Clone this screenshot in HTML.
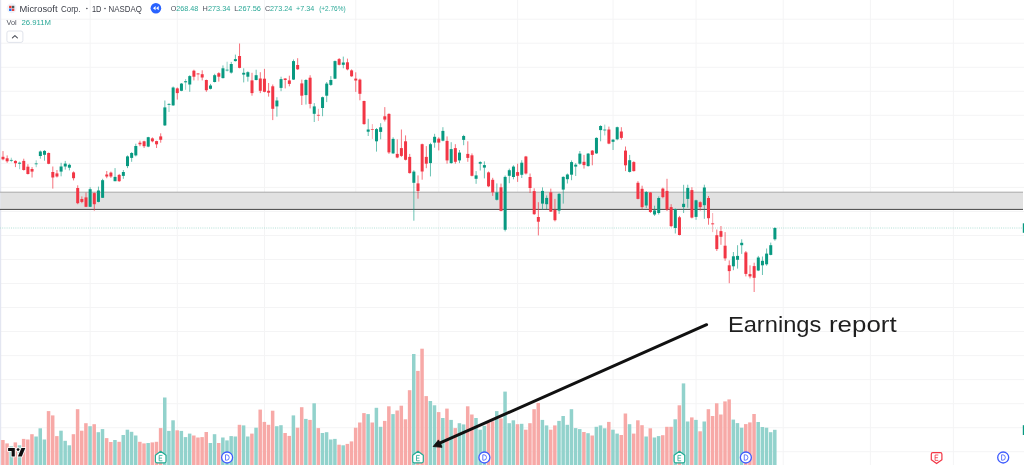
<!DOCTYPE html>
<html><head><meta charset="utf-8"><title>MSFT chart</title>
<style>html,body{margin:0;padding:0;background:#fff;overflow:hidden}svg{display:block;will-change:transform}text{font-family:"Liberation Sans",sans-serif}</style>
</head><body>
<svg width="1024" height="465" viewBox="0 0 1024 465">
<rect width="1024" height="465" fill="#fff"/>
<g stroke="#f4f4f5" stroke-width="1">
<line x1="90.15" y1="0" x2="90.15" y2="465"/>
<line x1="177.30" y1="0" x2="177.30" y2="465"/>
<line x1="264.45" y1="0" x2="264.45" y2="465"/>
<line x1="355.75" y1="0" x2="355.75" y2="465"/>
<line x1="438.75" y1="0" x2="438.75" y2="465"/>
<line x1="517.60" y1="0" x2="517.60" y2="465"/>
<line x1="613.05" y1="0" x2="613.05" y2="465"/>
<line x1="696.05" y1="0" x2="696.05" y2="465"/>
<line x1="783.20" y1="0" x2="783.20" y2="465"/>
<line x1="870.35" y1="0" x2="870.35" y2="465"/>
<line x1="953.35" y1="0" x2="953.35" y2="465"/>
<line x1="0" y1="19.20" x2="1024" y2="19.20"/>
<line x1="0" y1="43.23" x2="1024" y2="43.23"/>
<line x1="0" y1="67.26" x2="1024" y2="67.26"/>
<line x1="0" y1="91.29" x2="1024" y2="91.29"/>
<line x1="0" y1="115.32" x2="1024" y2="115.32"/>
<line x1="0" y1="139.35" x2="1024" y2="139.35"/>
<line x1="0" y1="163.38" x2="1024" y2="163.38"/>
<line x1="0" y1="187.41" x2="1024" y2="187.41"/>
<line x1="0" y1="211.44" x2="1024" y2="211.44"/>
<line x1="0" y1="235.47" x2="1024" y2="235.47"/>
<line x1="0" y1="259.50" x2="1024" y2="259.50"/>
<line x1="0" y1="283.53" x2="1024" y2="283.53"/>
<line x1="0" y1="307.56" x2="1024" y2="307.56"/>
<line x1="0" y1="331.59" x2="1024" y2="331.59"/>
<line x1="0" y1="355.62" x2="1024" y2="355.62"/>
<line x1="0" y1="379.65" x2="1024" y2="379.65"/>
<line x1="0" y1="403.68" x2="1024" y2="403.68"/>
<line x1="0" y1="427.71" x2="1024" y2="427.71"/>
<line x1="0" y1="451.74" x2="1024" y2="451.74"/>
</g>
<rect x="0" y="0" width="1.2" height="465" fill="#e3e6f1"/>
<rect x="0.6" y="192" width="1022.4" height="18" fill="#e1e1e1"/>
<rect x="0" y="191.7" width="1023" height="0.9" fill="#a4a4a4"/>
<rect x="0" y="208.9" width="1023" height="1" fill="#484848"/>
<line x1="0" y1="228" x2="1023" y2="228" stroke="#b4e0d8" stroke-width="1" stroke-dasharray="1 1.2"/>
<rect x="1022.8" y="223.3" width="1.4" height="9.5" fill="#089981"/>
<rect x="1022.8" y="425.2" width="1.4" height="9.8" fill="#089981"/>
<g>
<rect x="1.15" y="440.0" width="3.5" height="25.0" fill="#f7a9a7"/>
<rect x="5.30" y="443.4" width="3.5" height="21.6" fill="#f7a9a7"/>
<rect x="9.45" y="446.3" width="3.5" height="18.7" fill="#92d2cc"/>
<rect x="13.60" y="442.4" width="3.5" height="22.6" fill="#f7a9a7"/>
<rect x="17.75" y="445.3" width="3.5" height="19.7" fill="#92d2cc"/>
<rect x="21.90" y="438.9" width="3.5" height="26.1" fill="#f7a9a7"/>
<rect x="26.05" y="439.5" width="3.5" height="25.5" fill="#f7a9a7"/>
<rect x="30.20" y="434.2" width="3.5" height="30.8" fill="#f7a9a7"/>
<rect x="34.35" y="436.5" width="3.5" height="28.5" fill="#92d2cc"/>
<rect x="38.50" y="428.3" width="3.5" height="36.7" fill="#92d2cc"/>
<rect x="42.65" y="439.5" width="3.5" height="25.5" fill="#92d2cc"/>
<rect x="46.80" y="411.1" width="3.5" height="53.9" fill="#f7a9a7"/>
<rect x="50.95" y="415.4" width="3.5" height="49.6" fill="#f7a9a7"/>
<rect x="55.10" y="436.1" width="3.5" height="28.9" fill="#f7a9a7"/>
<rect x="59.25" y="430.7" width="3.5" height="34.3" fill="#92d2cc"/>
<rect x="63.40" y="440.8" width="3.5" height="24.2" fill="#92d2cc"/>
<rect x="67.55" y="445.3" width="3.5" height="19.7" fill="#92d2cc"/>
<rect x="71.70" y="434.2" width="3.5" height="30.8" fill="#f7a9a7"/>
<rect x="75.85" y="409.2" width="3.5" height="55.8" fill="#f7a9a7"/>
<rect x="80.00" y="430.7" width="3.5" height="34.3" fill="#f7a9a7"/>
<rect x="84.15" y="423.2" width="3.5" height="41.8" fill="#f7a9a7"/>
<rect x="88.30" y="426.2" width="3.5" height="38.8" fill="#92d2cc"/>
<rect x="92.45" y="424.2" width="3.5" height="40.8" fill="#f7a9a7"/>
<rect x="96.60" y="432.2" width="3.5" height="32.8" fill="#92d2cc"/>
<rect x="100.75" y="429.1" width="3.5" height="35.9" fill="#92d2cc"/>
<rect x="104.90" y="438.1" width="3.5" height="26.9" fill="#f7a9a7"/>
<rect x="109.05" y="442.0" width="3.5" height="23.0" fill="#f7a9a7"/>
<rect x="113.20" y="440.0" width="3.5" height="25.0" fill="#92d2cc"/>
<rect x="117.35" y="441.8" width="3.5" height="23.2" fill="#f7a9a7"/>
<rect x="121.50" y="435.0" width="3.5" height="30.0" fill="#92d2cc"/>
<rect x="125.65" y="429.7" width="3.5" height="35.3" fill="#92d2cc"/>
<rect x="129.80" y="431.8" width="3.5" height="33.2" fill="#92d2cc"/>
<rect x="133.95" y="435.5" width="3.5" height="29.5" fill="#92d2cc"/>
<rect x="138.10" y="441.8" width="3.5" height="23.2" fill="#f7a9a7"/>
<rect x="142.25" y="443.4" width="3.5" height="21.6" fill="#f7a9a7"/>
<rect x="146.40" y="443.0" width="3.5" height="22.0" fill="#92d2cc"/>
<rect x="150.55" y="442.4" width="3.5" height="22.6" fill="#f7a9a7"/>
<rect x="154.70" y="441.8" width="3.5" height="23.2" fill="#f7a9a7"/>
<rect x="158.85" y="428.1" width="3.5" height="36.9" fill="#f7a9a7"/>
<rect x="163.00" y="397.5" width="3.5" height="67.5" fill="#92d2cc"/>
<rect x="167.15" y="430.9" width="3.5" height="34.1" fill="#92d2cc"/>
<rect x="171.30" y="420.3" width="3.5" height="44.7" fill="#92d2cc"/>
<rect x="175.45" y="430.3" width="3.5" height="34.7" fill="#f7a9a7"/>
<rect x="179.60" y="430.9" width="3.5" height="34.1" fill="#92d2cc"/>
<rect x="183.75" y="437.1" width="3.5" height="27.9" fill="#92d2cc"/>
<rect x="187.90" y="433.6" width="3.5" height="31.4" fill="#92d2cc"/>
<rect x="192.05" y="435.5" width="3.5" height="29.5" fill="#f7a9a7"/>
<rect x="196.20" y="437.5" width="3.5" height="27.5" fill="#f7a9a7"/>
<rect x="200.35" y="437.1" width="3.5" height="27.9" fill="#f7a9a7"/>
<rect x="204.50" y="432.0" width="3.5" height="33.0" fill="#f7a9a7"/>
<rect x="208.65" y="443.0" width="3.5" height="22.0" fill="#92d2cc"/>
<rect x="212.80" y="434.2" width="3.5" height="30.8" fill="#92d2cc"/>
<rect x="216.95" y="443.0" width="3.5" height="22.0" fill="#f7a9a7"/>
<rect x="221.10" y="437.5" width="3.5" height="27.5" fill="#92d2cc"/>
<rect x="225.25" y="440.4" width="3.5" height="24.6" fill="#92d2cc"/>
<rect x="229.40" y="436.1" width="3.5" height="28.9" fill="#92d2cc"/>
<rect x="233.55" y="436.5" width="3.5" height="28.5" fill="#92d2cc"/>
<rect x="237.70" y="424.8" width="3.5" height="40.2" fill="#f7a9a7"/>
<rect x="241.85" y="425.4" width="3.5" height="39.6" fill="#92d2cc"/>
<rect x="246.00" y="436.5" width="3.5" height="28.5" fill="#92d2cc"/>
<rect x="250.15" y="433.6" width="3.5" height="31.4" fill="#f7a9a7"/>
<rect x="254.30" y="427.7" width="3.5" height="37.3" fill="#92d2cc"/>
<rect x="258.45" y="409.6" width="3.5" height="55.4" fill="#f7a9a7"/>
<rect x="262.60" y="421.9" width="3.5" height="43.1" fill="#f7a9a7"/>
<rect x="266.75" y="424.8" width="3.5" height="40.2" fill="#f7a9a7"/>
<rect x="270.90" y="410.7" width="3.5" height="54.3" fill="#f7a9a7"/>
<rect x="275.05" y="426.2" width="3.5" height="38.8" fill="#92d2cc"/>
<rect x="279.20" y="425.2" width="3.5" height="39.8" fill="#92d2cc"/>
<rect x="283.35" y="433.0" width="3.5" height="32.0" fill="#f7a9a7"/>
<rect x="287.50" y="435.9" width="3.5" height="29.1" fill="#f7a9a7"/>
<rect x="291.65" y="415.4" width="3.5" height="49.6" fill="#92d2cc"/>
<rect x="295.80" y="427.7" width="3.5" height="37.3" fill="#f7a9a7"/>
<rect x="299.95" y="407.2" width="3.5" height="57.8" fill="#f7a9a7"/>
<rect x="304.10" y="418.9" width="3.5" height="46.1" fill="#92d2cc"/>
<rect x="308.25" y="419.9" width="3.5" height="45.1" fill="#f7a9a7"/>
<rect x="312.40" y="403.3" width="3.5" height="61.7" fill="#92d2cc"/>
<rect x="316.55" y="428.1" width="3.5" height="36.9" fill="#f7a9a7"/>
<rect x="320.70" y="433.0" width="3.5" height="32.0" fill="#92d2cc"/>
<rect x="324.85" y="432.2" width="3.5" height="32.8" fill="#92d2cc"/>
<rect x="329.00" y="439.5" width="3.5" height="25.5" fill="#92d2cc"/>
<rect x="333.15" y="438.9" width="3.5" height="26.1" fill="#92d2cc"/>
<rect x="337.30" y="444.7" width="3.5" height="20.3" fill="#f7a9a7"/>
<rect x="341.45" y="445.3" width="3.5" height="19.7" fill="#92d2cc"/>
<rect x="345.60" y="443.9" width="3.5" height="21.1" fill="#f7a9a7"/>
<rect x="349.75" y="441.4" width="3.5" height="23.6" fill="#f7a9a7"/>
<rect x="353.90" y="427.7" width="3.5" height="37.3" fill="#f7a9a7"/>
<rect x="358.05" y="422.5" width="3.5" height="42.5" fill="#f7a9a7"/>
<rect x="362.20" y="413.1" width="3.5" height="51.9" fill="#f7a9a7"/>
<rect x="366.35" y="414.1" width="3.5" height="50.9" fill="#92d2cc"/>
<rect x="370.50" y="422.5" width="3.5" height="42.5" fill="#f7a9a7"/>
<rect x="374.65" y="407.8" width="3.5" height="57.2" fill="#92d2cc"/>
<rect x="378.80" y="426.8" width="3.5" height="38.2" fill="#92d2cc"/>
<rect x="382.95" y="420.9" width="3.5" height="44.1" fill="#f7a9a7"/>
<rect x="387.10" y="406.3" width="3.5" height="58.7" fill="#f7a9a7"/>
<rect x="391.25" y="414.1" width="3.5" height="50.9" fill="#92d2cc"/>
<rect x="395.40" y="410.5" width="3.5" height="54.5" fill="#f7a9a7"/>
<rect x="399.55" y="405.7" width="3.5" height="59.3" fill="#f7a9a7"/>
<rect x="403.70" y="419.3" width="3.5" height="45.7" fill="#f7a9a7"/>
<rect x="407.85" y="390.2" width="3.5" height="74.8" fill="#f7a9a7"/>
<rect x="412.00" y="354.0" width="3.5" height="111.0" fill="#92d2cc"/>
<rect x="416.15" y="370.9" width="3.5" height="94.1" fill="#f7a9a7"/>
<rect x="420.30" y="348.7" width="3.5" height="116.3" fill="#f7a9a7"/>
<rect x="424.45" y="396.1" width="3.5" height="68.9" fill="#f7a9a7"/>
<rect x="428.60" y="401.0" width="3.5" height="64.0" fill="#92d2cc"/>
<rect x="432.75" y="405.3" width="3.5" height="59.7" fill="#92d2cc"/>
<rect x="436.90" y="412.1" width="3.5" height="52.9" fill="#f7a9a7"/>
<rect x="441.05" y="418.0" width="3.5" height="47.0" fill="#92d2cc"/>
<rect x="445.20" y="408.6" width="3.5" height="56.4" fill="#f7a9a7"/>
<rect x="449.35" y="419.9" width="3.5" height="45.1" fill="#92d2cc"/>
<rect x="453.50" y="428.1" width="3.5" height="36.9" fill="#f7a9a7"/>
<rect x="457.65" y="423.2" width="3.5" height="41.8" fill="#92d2cc"/>
<rect x="461.80" y="424.4" width="3.5" height="40.6" fill="#92d2cc"/>
<rect x="465.95" y="406.3" width="3.5" height="58.7" fill="#f7a9a7"/>
<rect x="470.10" y="414.5" width="3.5" height="50.5" fill="#f7a9a7"/>
<rect x="474.25" y="418.0" width="3.5" height="47.0" fill="#92d2cc"/>
<rect x="478.40" y="429.7" width="3.5" height="35.3" fill="#92d2cc"/>
<rect x="482.55" y="425.8" width="3.5" height="39.2" fill="#92d2cc"/>
<rect x="486.70" y="422.5" width="3.5" height="42.5" fill="#f7a9a7"/>
<rect x="490.85" y="421.3" width="3.5" height="43.7" fill="#f7a9a7"/>
<rect x="495.00" y="411.1" width="3.5" height="53.9" fill="#92d2cc"/>
<rect x="499.15" y="418.4" width="3.5" height="46.6" fill="#f7a9a7"/>
<rect x="503.30" y="391.6" width="3.5" height="73.4" fill="#92d2cc"/>
<rect x="507.45" y="423.2" width="3.5" height="41.8" fill="#92d2cc"/>
<rect x="511.60" y="420.3" width="3.5" height="44.7" fill="#92d2cc"/>
<rect x="515.75" y="424.2" width="3.5" height="40.8" fill="#f7a9a7"/>
<rect x="519.90" y="423.8" width="3.5" height="41.2" fill="#92d2cc"/>
<rect x="524.05" y="429.7" width="3.5" height="35.3" fill="#f7a9a7"/>
<rect x="528.20" y="423.2" width="3.5" height="41.8" fill="#f7a9a7"/>
<rect x="532.35" y="409.2" width="3.5" height="55.8" fill="#f7a9a7"/>
<rect x="536.50" y="402.9" width="3.5" height="62.1" fill="#f7a9a7"/>
<rect x="540.65" y="419.9" width="3.5" height="45.1" fill="#92d2cc"/>
<rect x="544.80" y="425.4" width="3.5" height="39.6" fill="#92d2cc"/>
<rect x="548.95" y="429.7" width="3.5" height="35.3" fill="#f7a9a7"/>
<rect x="553.10" y="425.4" width="3.5" height="39.6" fill="#f7a9a7"/>
<rect x="557.25" y="420.9" width="3.5" height="44.1" fill="#92d2cc"/>
<rect x="561.40" y="416.0" width="3.5" height="49.0" fill="#92d2cc"/>
<rect x="565.55" y="424.8" width="3.5" height="40.2" fill="#92d2cc"/>
<rect x="569.70" y="409.2" width="3.5" height="55.8" fill="#92d2cc"/>
<rect x="573.85" y="428.1" width="3.5" height="36.9" fill="#92d2cc"/>
<rect x="578.00" y="429.1" width="3.5" height="35.9" fill="#92d2cc"/>
<rect x="582.15" y="432.0" width="3.5" height="33.0" fill="#f7a9a7"/>
<rect x="586.30" y="433.2" width="3.5" height="31.8" fill="#92d2cc"/>
<rect x="590.45" y="435.5" width="3.5" height="29.5" fill="#f7a9a7"/>
<rect x="594.60" y="426.8" width="3.5" height="38.2" fill="#92d2cc"/>
<rect x="598.75" y="425.4" width="3.5" height="39.6" fill="#92d2cc"/>
<rect x="602.90" y="428.3" width="3.5" height="36.7" fill="#92d2cc"/>
<rect x="607.05" y="421.9" width="3.5" height="43.1" fill="#f7a9a7"/>
<rect x="611.20" y="429.7" width="3.5" height="35.3" fill="#92d2cc"/>
<rect x="615.35" y="433.6" width="3.5" height="31.4" fill="#92d2cc"/>
<rect x="619.50" y="435.0" width="3.5" height="30.0" fill="#f7a9a7"/>
<rect x="623.65" y="413.5" width="3.5" height="51.5" fill="#f7a9a7"/>
<rect x="627.80" y="424.2" width="3.5" height="40.8" fill="#92d2cc"/>
<rect x="631.95" y="433.6" width="3.5" height="31.4" fill="#f7a9a7"/>
<rect x="636.10" y="420.3" width="3.5" height="44.7" fill="#f7a9a7"/>
<rect x="640.25" y="425.2" width="3.5" height="39.8" fill="#f7a9a7"/>
<rect x="644.40" y="436.5" width="3.5" height="28.5" fill="#92d2cc"/>
<rect x="648.55" y="428.3" width="3.5" height="36.7" fill="#f7a9a7"/>
<rect x="652.70" y="437.5" width="3.5" height="27.5" fill="#92d2cc"/>
<rect x="656.85" y="436.1" width="3.5" height="28.9" fill="#92d2cc"/>
<rect x="661.00" y="435.2" width="3.5" height="29.8" fill="#f7a9a7"/>
<rect x="665.15" y="426.8" width="3.5" height="38.2" fill="#f7a9a7"/>
<rect x="669.30" y="426.8" width="3.5" height="38.2" fill="#f7a9a7"/>
<rect x="673.45" y="419.3" width="3.5" height="45.7" fill="#92d2cc"/>
<rect x="677.60" y="405.3" width="3.5" height="59.7" fill="#f7a9a7"/>
<rect x="681.75" y="383.4" width="3.5" height="81.6" fill="#92d2cc"/>
<rect x="685.90" y="421.5" width="3.5" height="43.5" fill="#92d2cc"/>
<rect x="690.05" y="417.4" width="3.5" height="47.6" fill="#f7a9a7"/>
<rect x="694.20" y="419.9" width="3.5" height="45.1" fill="#92d2cc"/>
<rect x="698.35" y="431.3" width="3.5" height="33.7" fill="#f7a9a7"/>
<rect x="702.50" y="421.5" width="3.5" height="43.5" fill="#92d2cc"/>
<rect x="706.65" y="409.2" width="3.5" height="55.8" fill="#f7a9a7"/>
<rect x="710.80" y="416.0" width="3.5" height="49.0" fill="#f7a9a7"/>
<rect x="714.95" y="403.3" width="3.5" height="61.7" fill="#f7a9a7"/>
<rect x="719.10" y="414.5" width="3.5" height="50.5" fill="#f7a9a7"/>
<rect x="723.25" y="401.4" width="3.5" height="63.6" fill="#f7a9a7"/>
<rect x="727.40" y="399.4" width="3.5" height="65.6" fill="#f7a9a7"/>
<rect x="731.55" y="419.6" width="3.5" height="45.4" fill="#92d2cc"/>
<rect x="735.70" y="423.1" width="3.5" height="41.9" fill="#92d2cc"/>
<rect x="739.85" y="427.7" width="3.5" height="37.3" fill="#92d2cc"/>
<rect x="744.00" y="424.1" width="3.5" height="40.9" fill="#f7a9a7"/>
<rect x="748.15" y="422.4" width="3.5" height="42.6" fill="#f7a9a7"/>
<rect x="752.30" y="414.0" width="3.5" height="51.0" fill="#f7a9a7"/>
<rect x="756.45" y="422.0" width="3.5" height="43.0" fill="#92d2cc"/>
<rect x="760.60" y="427.0" width="3.5" height="38.0" fill="#92d2cc"/>
<rect x="764.75" y="427.7" width="3.5" height="37.3" fill="#92d2cc"/>
<rect x="768.90" y="432.2" width="3.5" height="32.8" fill="#92d2cc"/>
<rect x="773.05" y="429.8" width="3.5" height="35.2" fill="#92d2cc"/>
</g>
<g>
<rect x="2.50" y="151.1" width="1" height="9.2" fill="#f23645" opacity="0.7"/>
<rect x="1.50" y="156.8" width="3" height="2.5" fill="#f23645" opacity="1"/>
<rect x="6.65" y="155.4" width="1" height="7.4" fill="#f23645" opacity="0.7"/>
<rect x="5.65" y="158.3" width="3" height="3.0" fill="#f23645" opacity="1"/>
<rect x="10.80" y="157.7" width="1" height="4.5" fill="#089981" opacity="0.42"/>
<rect x="9.80" y="159.9" width="3" height="1.0" fill="#089981" opacity="0.8"/>
<rect x="14.95" y="160.3" width="1" height="6.8" fill="#f23645" opacity="0.7"/>
<rect x="13.95" y="160.9" width="3" height="2.3" fill="#f23645" opacity="1"/>
<rect x="19.10" y="161.5" width="1" height="7.7" fill="#089981" opacity="0.42"/>
<rect x="18.10" y="162.6" width="3" height="1.3" fill="#089981" opacity="0.8"/>
<rect x="23.25" y="158.7" width="1" height="11.9" fill="#f23645" opacity="0.7"/>
<rect x="22.25" y="160.9" width="3" height="9.1" fill="#f23645" opacity="1"/>
<rect x="27.40" y="164.2" width="1" height="10.3" fill="#f23645" opacity="0.7"/>
<rect x="26.40" y="166.7" width="3" height="7.3" fill="#f23645" opacity="1"/>
<rect x="31.55" y="167.1" width="1" height="10.4" fill="#f23645" opacity="0.7"/>
<rect x="30.55" y="169.0" width="3" height="2.6" fill="#f23645" opacity="1"/>
<rect x="35.70" y="160.3" width="1" height="6.9" fill="#089981" opacity="0.42"/>
<rect x="34.70" y="163.3" width="3" height="1.0" fill="#089981" opacity="0.8"/>
<rect x="39.85" y="150.5" width="1" height="8.2" fill="#089981" opacity="0.6"/>
<rect x="38.85" y="151.5" width="3" height="4.5" fill="#089981" opacity="1"/>
<rect x="44.00" y="150.1" width="1" height="10.6" fill="#089981" opacity="0.6"/>
<rect x="43.00" y="150.9" width="3" height="3.9" fill="#089981" opacity="1"/>
<rect x="48.15" y="152.5" width="1" height="11.7" fill="#f23645" opacity="0.7"/>
<rect x="47.15" y="153.0" width="3" height="10.8" fill="#f23645" opacity="1"/>
<rect x="52.30" y="166.5" width="1" height="22.1" fill="#f23645" opacity="0.7"/>
<rect x="51.30" y="172.0" width="3" height="5.5" fill="#f23645" opacity="1"/>
<rect x="56.45" y="170.0" width="1" height="7.5" fill="#f23645" opacity="0.7"/>
<rect x="55.45" y="173.4" width="3" height="3.1" fill="#f23645" opacity="1"/>
<rect x="60.60" y="162.8" width="1" height="13.5" fill="#089981" opacity="0.6"/>
<rect x="59.60" y="166.5" width="3" height="5.1" fill="#089981" opacity="1"/>
<rect x="64.75" y="160.9" width="1" height="8.7" fill="#089981" opacity="0.6"/>
<rect x="63.75" y="163.6" width="3" height="2.9" fill="#089981" opacity="1"/>
<rect x="68.90" y="163.6" width="1" height="6.8" fill="#089981" opacity="0.6"/>
<rect x="67.90" y="164.8" width="3" height="2.9" fill="#089981" opacity="1"/>
<rect x="73.05" y="171.4" width="1" height="9.0" fill="#f23645" opacity="0.7"/>
<rect x="72.05" y="172.4" width="3" height="5.8" fill="#f23645" opacity="1"/>
<rect x="77.20" y="185.3" width="1" height="18.9" fill="#f23645" opacity="0.7"/>
<rect x="76.20" y="188.0" width="3" height="15.2" fill="#f23645" opacity="1"/>
<rect x="81.35" y="196.4" width="1" height="6.8" fill="#f23645" opacity="0.7"/>
<rect x="80.35" y="199.0" width="3" height="2.9" fill="#f23645" opacity="1"/>
<rect x="85.50" y="192.5" width="1" height="14.6" fill="#f23645" opacity="0.7"/>
<rect x="84.50" y="197.4" width="3" height="9.4" fill="#f23645" opacity="1"/>
<rect x="89.65" y="187.2" width="1" height="19.9" fill="#089981" opacity="0.6"/>
<rect x="88.65" y="189.2" width="3" height="17.6" fill="#089981" opacity="1"/>
<rect x="93.80" y="192.5" width="1" height="18.2" fill="#f23645" opacity="0.7"/>
<rect x="92.80" y="193.1" width="3" height="11.1" fill="#f23645" opacity="1"/>
<rect x="97.95" y="186.6" width="1" height="15.7" fill="#089981" opacity="0.6"/>
<rect x="96.95" y="190.5" width="3" height="11.4" fill="#089981" opacity="1"/>
<rect x="102.10" y="178.8" width="1" height="19.2" fill="#089981" opacity="0.6"/>
<rect x="101.10" y="180.2" width="3" height="17.6" fill="#089981" opacity="1"/>
<rect x="106.25" y="171.0" width="1" height="7.2" fill="#f23645" opacity="0.7"/>
<rect x="105.25" y="174.5" width="3" height="2.0" fill="#f23645" opacity="1"/>
<rect x="110.40" y="171.6" width="1" height="6.3" fill="#f23645" opacity="0.7"/>
<rect x="109.40" y="172.6" width="3" height="3.9" fill="#f23645" opacity="1"/>
<rect x="114.55" y="168.1" width="1" height="13.1" fill="#089981" opacity="0.6"/>
<rect x="113.55" y="176.9" width="3" height="4.3" fill="#089981" opacity="1"/>
<rect x="118.70" y="173.9" width="1" height="7.9" fill="#f23645" opacity="0.7"/>
<rect x="117.70" y="174.9" width="3" height="6.3" fill="#f23645" opacity="1"/>
<rect x="122.85" y="170.0" width="1" height="8.8" fill="#089981" opacity="0.6"/>
<rect x="121.85" y="172.0" width="3" height="3.9" fill="#089981" opacity="1"/>
<rect x="127.00" y="155.4" width="1" height="12.7" fill="#089981" opacity="0.6"/>
<rect x="126.00" y="156.4" width="3" height="9.7" fill="#089981" opacity="1"/>
<rect x="131.15" y="152.1" width="1" height="9.7" fill="#089981" opacity="0.6"/>
<rect x="130.15" y="153.0" width="3" height="4.9" fill="#089981" opacity="1"/>
<rect x="135.30" y="143.7" width="1" height="12.7" fill="#089981" opacity="0.6"/>
<rect x="134.30" y="146.0" width="3" height="9.4" fill="#089981" opacity="1"/>
<rect x="139.45" y="140.7" width="1" height="5.5" fill="#f23645" opacity="0.7"/>
<rect x="138.45" y="142.7" width="3" height="1.6" fill="#f23645" opacity="1"/>
<rect x="143.60" y="140.7" width="1" height="7.3" fill="#f23645" opacity="0.7"/>
<rect x="142.60" y="141.3" width="3" height="4.9" fill="#f23645" opacity="1"/>
<rect x="147.75" y="136.8" width="1" height="10.4" fill="#089981" opacity="0.6"/>
<rect x="146.75" y="137.2" width="3" height="9.4" fill="#089981" opacity="1"/>
<rect x="151.90" y="137.4" width="1" height="4.9" fill="#f23645" opacity="0.7"/>
<rect x="150.90" y="138.4" width="3" height="2.9" fill="#f23645" opacity="1"/>
<rect x="156.05" y="140.7" width="1" height="7.3" fill="#f23645" opacity="0.7"/>
<rect x="155.05" y="141.1" width="3" height="3.2" fill="#f23645" opacity="1"/>
<rect x="160.20" y="133.3" width="1" height="9.4" fill="#f23645" opacity="0.7"/>
<rect x="159.20" y="136.4" width="3" height="3.4" fill="#f23645" opacity="1"/>
<rect x="164.35" y="100.5" width="1" height="25.5" fill="#089981" opacity="0.6"/>
<rect x="163.35" y="107.4" width="3" height="18.0" fill="#089981" opacity="1"/>
<rect x="168.50" y="103.0" width="1" height="9.0" fill="#089981" opacity="0.42"/>
<rect x="167.50" y="103.9" width="3" height="1.1" fill="#089981" opacity="0.8"/>
<rect x="172.65" y="86.5" width="1" height="19.3" fill="#089981" opacity="0.6"/>
<rect x="171.65" y="87.5" width="3" height="17.9" fill="#089981" opacity="1"/>
<rect x="176.80" y="87.5" width="1" height="12.1" fill="#f23645" opacity="0.7"/>
<rect x="175.80" y="88.4" width="3" height="4.7" fill="#f23645" opacity="1"/>
<rect x="180.95" y="83.0" width="1" height="8.2" fill="#089981" opacity="0.6"/>
<rect x="179.95" y="83.6" width="3" height="7.2" fill="#089981" opacity="1"/>
<rect x="185.10" y="79.0" width="1" height="10.8" fill="#089981" opacity="0.42"/>
<rect x="184.10" y="81.0" width="3" height="1.4" fill="#089981" opacity="0.8"/>
<rect x="189.25" y="75.2" width="1" height="16.6" fill="#089981" opacity="0.6"/>
<rect x="188.25" y="76.1" width="3" height="8.4" fill="#089981" opacity="1"/>
<rect x="193.40" y="69.7" width="1" height="10.7" fill="#f23645" opacity="0.7"/>
<rect x="192.40" y="70.7" width="3" height="6.0" fill="#f23645" opacity="1"/>
<rect x="197.55" y="73.0" width="1" height="7.5" fill="#f23645" opacity="0.42"/>
<rect x="196.55" y="73.3" width="3" height="1.2" fill="#f23645" opacity="0.8"/>
<rect x="201.70" y="70.3" width="1" height="10.1" fill="#f23645" opacity="0.7"/>
<rect x="200.70" y="74.2" width="3" height="3.3" fill="#f23645" opacity="1"/>
<rect x="205.85" y="79.6" width="1" height="12.2" fill="#f23645" opacity="0.7"/>
<rect x="204.85" y="80.0" width="3" height="10.2" fill="#f23645" opacity="1"/>
<rect x="210.00" y="83.9" width="1" height="5.5" fill="#089981" opacity="0.6"/>
<rect x="209.00" y="85.5" width="3" height="3.3" fill="#089981" opacity="1"/>
<rect x="214.15" y="73.8" width="1" height="8.6" fill="#089981" opacity="0.6"/>
<rect x="213.15" y="75.2" width="3" height="6.8" fill="#089981" opacity="1"/>
<rect x="218.30" y="72.2" width="1" height="9.4" fill="#f23645" opacity="0.7"/>
<rect x="217.30" y="73.2" width="3" height="3.5" fill="#f23645" opacity="1"/>
<rect x="222.45" y="65.4" width="1" height="13.1" fill="#089981" opacity="0.6"/>
<rect x="221.45" y="68.3" width="3" height="9.8" fill="#089981" opacity="1"/>
<rect x="226.60" y="61.7" width="1" height="9.8" fill="#089981" opacity="0.42"/>
<rect x="225.60" y="69.6" width="3" height="1.0" fill="#089981" opacity="0.8"/>
<rect x="230.75" y="61.9" width="1" height="11.7" fill="#089981" opacity="0.6"/>
<rect x="229.75" y="64.0" width="3" height="8.6" fill="#089981" opacity="1"/>
<rect x="234.90" y="54.6" width="1" height="6.9" fill="#089981" opacity="0.6"/>
<rect x="233.90" y="59.1" width="3" height="2.0" fill="#089981" opacity="1"/>
<rect x="239.05" y="43.5" width="1" height="24.8" fill="#f23645" opacity="0.7"/>
<rect x="238.05" y="56.0" width="3" height="11.9" fill="#f23645" opacity="1"/>
<rect x="243.20" y="68.3" width="1" height="14.1" fill="#089981" opacity="0.6"/>
<rect x="242.20" y="72.8" width="3" height="1.8" fill="#089981" opacity="1"/>
<rect x="247.35" y="71.3" width="1" height="10.3" fill="#089981" opacity="0.6"/>
<rect x="246.35" y="72.2" width="3" height="4.5" fill="#089981" opacity="1"/>
<rect x="251.50" y="72.8" width="1" height="22.9" fill="#f23645" opacity="0.7"/>
<rect x="250.50" y="80.4" width="3" height="12.7" fill="#f23645" opacity="1"/>
<rect x="255.65" y="69.7" width="1" height="10.7" fill="#089981" opacity="0.6"/>
<rect x="254.65" y="75.2" width="3" height="4.8" fill="#089981" opacity="1"/>
<rect x="259.80" y="72.2" width="1" height="20.9" fill="#f23645" opacity="0.7"/>
<rect x="258.80" y="78.5" width="3" height="12.3" fill="#f23645" opacity="1"/>
<rect x="263.95" y="68.9" width="1" height="23.4" fill="#f23645" opacity="0.7"/>
<rect x="262.95" y="78.7" width="3" height="13.1" fill="#f23645" opacity="1"/>
<rect x="268.10" y="83.0" width="1" height="13.6" fill="#f23645" opacity="0.7"/>
<rect x="267.10" y="90.8" width="3" height="1.9" fill="#f23645" opacity="1"/>
<rect x="272.25" y="84.5" width="1" height="35.6" fill="#f23645" opacity="0.7"/>
<rect x="271.25" y="86.3" width="3" height="22.5" fill="#f23645" opacity="1"/>
<rect x="276.40" y="97.2" width="1" height="19.4" fill="#089981" opacity="0.6"/>
<rect x="275.40" y="100.5" width="3" height="5.9" fill="#089981" opacity="1"/>
<rect x="280.55" y="76.7" width="1" height="14.5" fill="#089981" opacity="0.6"/>
<rect x="279.55" y="79.1" width="3" height="8.8" fill="#089981" opacity="1"/>
<rect x="284.70" y="78.1" width="1" height="10.3" fill="#f23645" opacity="0.7"/>
<rect x="283.70" y="78.5" width="3" height="1.5" fill="#f23645" opacity="1"/>
<rect x="288.85" y="75.7" width="1" height="10.6" fill="#f23645" opacity="0.7"/>
<rect x="287.85" y="80.4" width="3" height="3.5" fill="#f23645" opacity="1"/>
<rect x="293.00" y="59.5" width="1" height="20.5" fill="#089981" opacity="0.6"/>
<rect x="292.00" y="61.1" width="3" height="18.5" fill="#089981" opacity="1"/>
<rect x="297.15" y="58.2" width="1" height="11.7" fill="#f23645" opacity="0.7"/>
<rect x="296.15" y="65.0" width="3" height="4.3" fill="#f23645" opacity="1"/>
<rect x="301.30" y="79.6" width="1" height="25.4" fill="#f23645" opacity="0.7"/>
<rect x="300.30" y="83.4" width="3" height="12.3" fill="#f23645" opacity="1"/>
<rect x="305.45" y="79.1" width="1" height="25.4" fill="#089981" opacity="0.6"/>
<rect x="304.45" y="80.0" width="3" height="15.1" fill="#089981" opacity="1"/>
<rect x="309.60" y="75.2" width="1" height="33.2" fill="#f23645" opacity="0.7"/>
<rect x="308.60" y="77.7" width="3" height="26.2" fill="#f23645" opacity="1"/>
<rect x="313.75" y="103.1" width="1" height="18.9" fill="#089981" opacity="0.6"/>
<rect x="312.75" y="106.4" width="3" height="7.4" fill="#089981" opacity="1"/>
<rect x="317.90" y="108.8" width="1" height="12.2" fill="#f23645" opacity="0.42"/>
<rect x="316.90" y="114.8" width="3" height="1.0" fill="#f23645" opacity="0.8"/>
<rect x="322.05" y="96.6" width="1" height="19.6" fill="#089981" opacity="0.6"/>
<rect x="321.05" y="97.2" width="3" height="10.8" fill="#089981" opacity="1"/>
<rect x="326.20" y="82.0" width="1" height="20.1" fill="#089981" opacity="0.6"/>
<rect x="325.20" y="83.6" width="3" height="12.1" fill="#089981" opacity="1"/>
<rect x="330.35" y="76.1" width="1" height="9.8" fill="#089981" opacity="0.6"/>
<rect x="329.35" y="80.0" width="3" height="4.9" fill="#089981" opacity="1"/>
<rect x="334.50" y="60.5" width="1" height="18.6" fill="#089981" opacity="0.6"/>
<rect x="333.50" y="61.1" width="3" height="17.6" fill="#089981" opacity="1"/>
<rect x="338.65" y="58.0" width="1" height="7.4" fill="#f23645" opacity="0.7"/>
<rect x="337.65" y="59.1" width="3" height="5.7" fill="#f23645" opacity="1"/>
<rect x="342.80" y="56.6" width="1" height="11.7" fill="#089981" opacity="0.6"/>
<rect x="341.80" y="62.5" width="3" height="2.3" fill="#089981" opacity="1"/>
<rect x="346.95" y="58.6" width="1" height="11.7" fill="#f23645" opacity="0.7"/>
<rect x="345.95" y="62.3" width="3" height="7.1" fill="#f23645" opacity="1"/>
<rect x="351.10" y="69.4" width="1" height="7.4" fill="#f23645" opacity="0.7"/>
<rect x="350.10" y="70.4" width="3" height="5.9" fill="#f23645" opacity="1"/>
<rect x="355.25" y="72.3" width="1" height="19.6" fill="#f23645" opacity="0.7"/>
<rect x="354.25" y="78.6" width="3" height="1.9" fill="#f23645" opacity="1"/>
<rect x="359.40" y="78.6" width="1" height="21.7" fill="#f23645" opacity="0.7"/>
<rect x="358.40" y="79.6" width="3" height="14.2" fill="#f23645" opacity="1"/>
<rect x="363.55" y="100.7" width="1" height="24.0" fill="#f23645" opacity="0.7"/>
<rect x="362.55" y="101.0" width="3" height="23.1" fill="#f23645" opacity="1"/>
<rect x="367.70" y="118.8" width="1" height="17.2" fill="#089981" opacity="0.6"/>
<rect x="366.70" y="129.5" width="3" height="2.2" fill="#089981" opacity="1"/>
<rect x="371.85" y="124.1" width="1" height="14.8" fill="#f23645" opacity="0.42"/>
<rect x="370.85" y="129.0" width="3" height="0.9" fill="#f23645" opacity="0.8"/>
<rect x="376.00" y="128.0" width="1" height="23.6" fill="#089981" opacity="0.6"/>
<rect x="375.00" y="129.1" width="3" height="12.2" fill="#089981" opacity="1"/>
<rect x="380.15" y="123.2" width="1" height="16.1" fill="#089981" opacity="0.6"/>
<rect x="379.15" y="127.3" width="3" height="4.6" fill="#089981" opacity="1"/>
<rect x="384.30" y="107.1" width="1" height="14.4" fill="#f23645" opacity="0.7"/>
<rect x="383.30" y="116.3" width="3" height="3.3" fill="#f23645" opacity="1"/>
<rect x="388.45" y="113.3" width="1" height="40.6" fill="#f23645" opacity="0.7"/>
<rect x="387.45" y="113.9" width="3" height="38.5" fill="#f23645" opacity="1"/>
<rect x="392.60" y="137.3" width="1" height="16.6" fill="#089981" opacity="0.6"/>
<rect x="391.60" y="138.9" width="3" height="14.5" fill="#089981" opacity="1"/>
<rect x="396.75" y="139.3" width="1" height="18.9" fill="#f23645" opacity="0.7"/>
<rect x="395.75" y="153.9" width="3" height="3.6" fill="#f23645" opacity="1"/>
<rect x="400.90" y="129.5" width="1" height="27.4" fill="#f23645" opacity="0.7"/>
<rect x="399.90" y="148.1" width="3" height="7.8" fill="#f23645" opacity="1"/>
<rect x="405.05" y="135.4" width="1" height="25.0" fill="#f23645" opacity="0.7"/>
<rect x="404.05" y="141.3" width="3" height="18.5" fill="#f23645" opacity="1"/>
<rect x="409.20" y="153.9" width="1" height="19.6" fill="#f23645" opacity="0.7"/>
<rect x="408.20" y="156.9" width="3" height="16.2" fill="#f23645" opacity="1"/>
<rect x="413.35" y="170.2" width="1" height="50.5" fill="#089981" opacity="0.6"/>
<rect x="412.35" y="171.6" width="3" height="11.2" fill="#089981" opacity="1"/>
<rect x="417.50" y="175.4" width="1" height="23.3" fill="#f23645" opacity="0.7"/>
<rect x="416.50" y="183.4" width="3" height="7.6" fill="#f23645" opacity="1"/>
<rect x="421.65" y="143.6" width="1" height="36.1" fill="#f23645" opacity="0.7"/>
<rect x="420.65" y="144.2" width="3" height="27.3" fill="#f23645" opacity="1"/>
<rect x="425.80" y="146.1" width="1" height="22.1" fill="#f23645" opacity="0.7"/>
<rect x="424.80" y="156.9" width="3" height="6.8" fill="#f23645" opacity="1"/>
<rect x="429.95" y="142.8" width="1" height="33.6" fill="#089981" opacity="0.6"/>
<rect x="428.95" y="144.2" width="3" height="18.9" fill="#089981" opacity="1"/>
<rect x="434.10" y="133.8" width="1" height="13.9" fill="#089981" opacity="0.6"/>
<rect x="433.10" y="136.8" width="3" height="5.8" fill="#089981" opacity="1"/>
<rect x="438.25" y="137.3" width="1" height="13.1" fill="#f23645" opacity="0.7"/>
<rect x="437.25" y="138.7" width="3" height="3.9" fill="#f23645" opacity="1"/>
<rect x="442.40" y="127.2" width="1" height="14.1" fill="#089981" opacity="0.6"/>
<rect x="441.40" y="130.9" width="3" height="9.8" fill="#089981" opacity="1"/>
<rect x="446.55" y="136.4" width="1" height="27.3" fill="#f23645" opacity="0.7"/>
<rect x="445.55" y="140.9" width="3" height="19.5" fill="#f23645" opacity="1"/>
<rect x="450.70" y="142.2" width="1" height="21.5" fill="#089981" opacity="0.6"/>
<rect x="449.70" y="149.1" width="3" height="14.0" fill="#089981" opacity="1"/>
<rect x="454.85" y="144.2" width="1" height="19.5" fill="#f23645" opacity="0.7"/>
<rect x="453.85" y="148.1" width="3" height="13.7" fill="#f23645" opacity="1"/>
<rect x="459.00" y="150.0" width="1" height="13.1" fill="#089981" opacity="0.6"/>
<rect x="458.00" y="152.6" width="3" height="7.8" fill="#089981" opacity="1"/>
<rect x="463.15" y="134.8" width="1" height="10.4" fill="#089981" opacity="0.6"/>
<rect x="462.15" y="136.0" width="3" height="3.9" fill="#089981" opacity="1"/>
<rect x="467.30" y="141.3" width="1" height="20.5" fill="#f23645" opacity="0.7"/>
<rect x="466.30" y="153.9" width="3" height="4.0" fill="#f23645" opacity="1"/>
<rect x="471.45" y="153.4" width="1" height="23.0" fill="#f23645" opacity="0.7"/>
<rect x="470.45" y="155.3" width="3" height="20.5" fill="#f23645" opacity="1"/>
<rect x="475.60" y="171.1" width="1" height="12.7" fill="#089981" opacity="0.6"/>
<rect x="474.60" y="175.4" width="3" height="3.4" fill="#089981" opacity="1"/>
<rect x="479.75" y="161.2" width="1" height="9.3" fill="#089981" opacity="0.6"/>
<rect x="478.75" y="162.1" width="3" height="1.6" fill="#089981" opacity="1"/>
<rect x="483.90" y="161.4" width="1" height="17.0" fill="#089981" opacity="0.6"/>
<rect x="482.90" y="165.1" width="3" height="2.5" fill="#089981" opacity="1"/>
<rect x="488.05" y="171.5" width="1" height="15.6" fill="#f23645" opacity="0.7"/>
<rect x="487.05" y="172.4" width="3" height="13.9" fill="#f23645" opacity="1"/>
<rect x="492.20" y="177.8" width="1" height="18.1" fill="#f23645" opacity="0.7"/>
<rect x="491.20" y="179.8" width="3" height="12.5" fill="#f23645" opacity="1"/>
<rect x="496.35" y="183.4" width="1" height="17.1" fill="#089981" opacity="0.6"/>
<rect x="495.35" y="192.4" width="3" height="7.4" fill="#089981" opacity="1"/>
<rect x="500.50" y="183.6" width="1" height="27.7" fill="#f23645" opacity="0.7"/>
<rect x="499.50" y="187.3" width="3" height="23.6" fill="#f23645" opacity="1"/>
<rect x="504.65" y="175.5" width="1" height="55.9" fill="#089981" opacity="0.6"/>
<rect x="503.65" y="176.9" width="3" height="52.9" fill="#089981" opacity="1"/>
<rect x="508.80" y="168.6" width="1" height="14.6" fill="#089981" opacity="0.6"/>
<rect x="507.80" y="170.2" width="3" height="5.6" fill="#089981" opacity="1"/>
<rect x="512.95" y="165.3" width="1" height="14.0" fill="#089981" opacity="0.6"/>
<rect x="511.95" y="166.6" width="3" height="10.4" fill="#089981" opacity="1"/>
<rect x="517.10" y="163.7" width="1" height="18.2" fill="#f23645" opacity="0.7"/>
<rect x="516.10" y="172.1" width="3" height="3.7" fill="#f23645" opacity="1"/>
<rect x="521.25" y="160.2" width="1" height="17.8" fill="#089981" opacity="0.6"/>
<rect x="520.25" y="162.7" width="3" height="12.1" fill="#089981" opacity="1"/>
<rect x="525.40" y="155.9" width="1" height="18.6" fill="#f23645" opacity="0.7"/>
<rect x="524.40" y="156.5" width="3" height="17.0" fill="#f23645" opacity="1"/>
<rect x="529.55" y="173.5" width="1" height="19.5" fill="#f23645" opacity="0.7"/>
<rect x="528.55" y="177.0" width="3" height="11.0" fill="#f23645" opacity="1"/>
<rect x="533.70" y="188.3" width="1" height="26.5" fill="#f23645" opacity="0.7"/>
<rect x="532.70" y="191.1" width="3" height="23.1" fill="#f23645" opacity="1"/>
<rect x="537.85" y="202.2" width="1" height="33.2" fill="#f23645" opacity="0.7"/>
<rect x="536.85" y="217.0" width="3" height="4.7" fill="#f23645" opacity="1"/>
<rect x="542.00" y="187.4" width="1" height="22.6" fill="#089981" opacity="0.6"/>
<rect x="541.00" y="190.9" width="3" height="12.7" fill="#089981" opacity="1"/>
<rect x="546.15" y="195.4" width="1" height="13.6" fill="#089981" opacity="0.6"/>
<rect x="545.15" y="197.9" width="3" height="6.3" fill="#089981" opacity="1"/>
<rect x="550.30" y="188.6" width="1" height="23.4" fill="#f23645" opacity="0.7"/>
<rect x="549.30" y="192.3" width="3" height="19.3" fill="#f23645" opacity="1"/>
<rect x="554.45" y="198.9" width="1" height="22.5" fill="#f23645" opacity="0.7"/>
<rect x="553.45" y="210.0" width="3" height="10.2" fill="#f23645" opacity="1"/>
<rect x="558.60" y="193.0" width="1" height="20.9" fill="#089981" opacity="0.6"/>
<rect x="557.60" y="193.9" width="3" height="16.7" fill="#089981" opacity="1"/>
<rect x="562.75" y="176.3" width="1" height="27.3" fill="#089981" opacity="0.6"/>
<rect x="561.75" y="176.9" width="3" height="12.7" fill="#089981" opacity="1"/>
<rect x="566.90" y="173.5" width="1" height="10.0" fill="#089981" opacity="0.6"/>
<rect x="565.90" y="174.5" width="3" height="4.7" fill="#089981" opacity="1"/>
<rect x="571.05" y="160.4" width="1" height="19.8" fill="#089981" opacity="0.6"/>
<rect x="570.05" y="162.1" width="3" height="12.6" fill="#089981" opacity="1"/>
<rect x="575.20" y="163.1" width="1" height="12.9" fill="#089981" opacity="0.6"/>
<rect x="574.20" y="164.7" width="3" height="1.9" fill="#089981" opacity="1"/>
<rect x="579.35" y="151.0" width="1" height="13.7" fill="#089981" opacity="0.6"/>
<rect x="578.35" y="153.6" width="3" height="10.1" fill="#089981" opacity="1"/>
<rect x="583.50" y="154.9" width="1" height="13.7" fill="#f23645" opacity="0.7"/>
<rect x="582.50" y="161.8" width="3" height="3.3" fill="#f23645" opacity="1"/>
<rect x="587.65" y="153.0" width="1" height="13.6" fill="#089981" opacity="0.6"/>
<rect x="586.65" y="153.6" width="3" height="12.5" fill="#089981" opacity="1"/>
<rect x="591.80" y="150.0" width="1" height="15.3" fill="#f23645" opacity="0.7"/>
<rect x="590.80" y="150.6" width="3" height="4.3" fill="#f23645" opacity="1"/>
<rect x="595.95" y="137.3" width="1" height="16.6" fill="#089981" opacity="0.6"/>
<rect x="594.95" y="137.9" width="3" height="15.5" fill="#089981" opacity="1"/>
<rect x="600.10" y="125.2" width="1" height="16.1" fill="#089981" opacity="0.6"/>
<rect x="599.10" y="126.0" width="3" height="4.1" fill="#089981" opacity="1"/>
<rect x="604.25" y="124.6" width="1" height="10.8" fill="#089981" opacity="0.42"/>
<rect x="603.25" y="129.5" width="3" height="1.0" fill="#089981" opacity="0.8"/>
<rect x="608.40" y="126.6" width="1" height="17.6" fill="#f23645" opacity="0.7"/>
<rect x="607.40" y="129.5" width="3" height="14.1" fill="#f23645" opacity="1"/>
<rect x="612.55" y="138.9" width="1" height="11.1" fill="#089981" opacity="0.6"/>
<rect x="611.55" y="139.7" width="3" height="2.1" fill="#089981" opacity="1"/>
<rect x="616.70" y="126.6" width="1" height="13.7" fill="#089981" opacity="0.6"/>
<rect x="615.70" y="127.2" width="3" height="12.1" fill="#089981" opacity="1"/>
<rect x="620.85" y="127.2" width="1" height="12.5" fill="#f23645" opacity="0.7"/>
<rect x="619.85" y="131.5" width="3" height="6.4" fill="#f23645" opacity="1"/>
<rect x="625.00" y="146.5" width="1" height="24.6" fill="#f23645" opacity="0.7"/>
<rect x="624.00" y="150.6" width="3" height="14.7" fill="#f23645" opacity="1"/>
<rect x="629.15" y="154.9" width="1" height="17.6" fill="#089981" opacity="0.6"/>
<rect x="628.15" y="160.2" width="3" height="11.7" fill="#089981" opacity="1"/>
<rect x="633.30" y="161.2" width="1" height="10.3" fill="#f23645" opacity="0.7"/>
<rect x="632.30" y="162.1" width="3" height="9.0" fill="#f23645" opacity="1"/>
<rect x="637.45" y="181.2" width="1" height="18.1" fill="#f23645" opacity="0.7"/>
<rect x="636.45" y="182.8" width="3" height="16.1" fill="#f23645" opacity="1"/>
<rect x="641.60" y="185.7" width="1" height="23.9" fill="#f23645" opacity="0.7"/>
<rect x="640.60" y="188.8" width="3" height="18.3" fill="#f23645" opacity="1"/>
<rect x="645.75" y="191.0" width="1" height="17.1" fill="#089981" opacity="0.6"/>
<rect x="644.75" y="192.0" width="3" height="13.5" fill="#089981" opacity="1"/>
<rect x="649.90" y="192.1" width="1" height="20.9" fill="#f23645" opacity="0.7"/>
<rect x="648.90" y="192.5" width="3" height="19.5" fill="#f23645" opacity="1"/>
<rect x="654.05" y="205.7" width="1" height="10.2" fill="#089981" opacity="0.6"/>
<rect x="653.05" y="210.4" width="3" height="4.1" fill="#089981" opacity="1"/>
<rect x="658.20" y="196.4" width="1" height="18.1" fill="#089981" opacity="0.6"/>
<rect x="657.20" y="198.0" width="3" height="15.0" fill="#089981" opacity="1"/>
<rect x="662.35" y="187.6" width="1" height="10.7" fill="#f23645" opacity="0.7"/>
<rect x="661.35" y="188.6" width="3" height="8.5" fill="#f23645" opacity="1"/>
<rect x="666.50" y="178.8" width="1" height="32.2" fill="#f23645" opacity="0.7"/>
<rect x="665.50" y="190.9" width="3" height="18.7" fill="#f23645" opacity="1"/>
<rect x="670.65" y="204.2" width="1" height="23.0" fill="#f23645" opacity="0.7"/>
<rect x="669.65" y="207.1" width="3" height="19.0" fill="#f23645" opacity="1"/>
<rect x="674.80" y="208.5" width="1" height="25.0" fill="#089981" opacity="0.6"/>
<rect x="673.80" y="209.1" width="3" height="18.9" fill="#089981" opacity="1"/>
<rect x="678.95" y="215.9" width="1" height="19.5" fill="#f23645" opacity="0.7"/>
<rect x="677.95" y="217.3" width="3" height="17.7" fill="#f23645" opacity="1"/>
<rect x="683.10" y="184.8" width="1" height="28.2" fill="#089981" opacity="0.6"/>
<rect x="682.10" y="203.8" width="3" height="3.3" fill="#089981" opacity="1"/>
<rect x="687.25" y="184.7" width="1" height="23.0" fill="#089981" opacity="0.6"/>
<rect x="686.25" y="187.9" width="3" height="11.0" fill="#089981" opacity="1"/>
<rect x="691.40" y="187.2" width="1" height="31.2" fill="#f23645" opacity="0.7"/>
<rect x="690.40" y="190.1" width="3" height="27.5" fill="#f23645" opacity="1"/>
<rect x="695.55" y="199.7" width="1" height="20.1" fill="#089981" opacity="0.6"/>
<rect x="694.55" y="200.3" width="3" height="16.6" fill="#089981" opacity="1"/>
<rect x="699.70" y="201.3" width="1" height="9.3" fill="#f23645" opacity="0.7"/>
<rect x="698.70" y="202.2" width="3" height="4.9" fill="#f23645" opacity="1"/>
<rect x="703.85" y="184.7" width="1" height="34.1" fill="#089981" opacity="0.6"/>
<rect x="702.85" y="187.5" width="3" height="17.7" fill="#089981" opacity="1"/>
<rect x="708.00" y="196.0" width="1" height="28.7" fill="#f23645" opacity="0.7"/>
<rect x="707.00" y="198.0" width="3" height="20.2" fill="#f23645" opacity="1"/>
<rect x="712.15" y="213.0" width="1" height="19.1" fill="#f23645" opacity="0.42"/>
<rect x="711.15" y="223.2" width="3" height="1.2" fill="#f23645" opacity="0.8"/>
<rect x="716.30" y="229.5" width="1" height="21.5" fill="#f23645" opacity="0.7"/>
<rect x="715.30" y="235.2" width="3" height="13.9" fill="#f23645" opacity="1"/>
<rect x="720.45" y="226.0" width="1" height="18.8" fill="#f23645" opacity="0.7"/>
<rect x="719.45" y="231.1" width="3" height="5.7" fill="#f23645" opacity="1"/>
<rect x="724.60" y="232.1" width="1" height="28.7" fill="#f23645" opacity="0.7"/>
<rect x="723.60" y="245.7" width="3" height="12.7" fill="#f23645" opacity="1"/>
<rect x="728.75" y="260.4" width="1" height="22.8" fill="#f23645" opacity="0.7"/>
<rect x="727.75" y="265.3" width="3" height="5.8" fill="#f23645" opacity="1"/>
<rect x="732.90" y="252.0" width="1" height="18.2" fill="#089981" opacity="0.6"/>
<rect x="731.90" y="256.3" width="3" height="10.0" fill="#089981" opacity="1"/>
<rect x="737.05" y="245.2" width="1" height="23.4" fill="#089981" opacity="0.6"/>
<rect x="736.05" y="255.9" width="3" height="3.9" fill="#089981" opacity="1"/>
<rect x="741.20" y="239.3" width="1" height="14.6" fill="#089981" opacity="0.6"/>
<rect x="740.20" y="242.8" width="3" height="2.4" fill="#089981" opacity="1"/>
<rect x="745.35" y="251.0" width="1" height="25.4" fill="#f23645" opacity="0.7"/>
<rect x="744.35" y="252.4" width="3" height="21.5" fill="#f23645" opacity="1"/>
<rect x="749.50" y="265.3" width="1" height="13.1" fill="#f23645" opacity="0.7"/>
<rect x="748.50" y="274.1" width="3" height="2.3" fill="#f23645" opacity="1"/>
<rect x="753.65" y="262.7" width="1" height="29.3" fill="#f23645" opacity="0.7"/>
<rect x="752.65" y="266.1" width="3" height="11.7" fill="#f23645" opacity="1"/>
<rect x="757.80" y="255.9" width="1" height="15.2" fill="#089981" opacity="0.6"/>
<rect x="756.80" y="257.5" width="3" height="13.0" fill="#089981" opacity="1"/>
<rect x="761.95" y="256.5" width="1" height="18.5" fill="#089981" opacity="0.6"/>
<rect x="760.95" y="260.8" width="3" height="4.5" fill="#089981" opacity="1"/>
<rect x="766.10" y="248.5" width="1" height="17.2" fill="#089981" opacity="0.6"/>
<rect x="765.10" y="253.6" width="3" height="10.7" fill="#089981" opacity="1"/>
<rect x="770.25" y="242.6" width="1" height="12.7" fill="#089981" opacity="0.6"/>
<rect x="769.25" y="245.2" width="3" height="9.7" fill="#089981" opacity="1"/>
<rect x="774.40" y="227.2" width="1" height="13.5" fill="#089981" opacity="0.6"/>
<rect x="773.40" y="228.0" width="3" height="11.3" fill="#089981" opacity="1"/>
</g>
<g stroke="#111" fill="#111">
<line x1="706.6" y1="324.7" x2="438.5" y2="443.7" stroke-width="3" stroke-linecap="round"/>
<path d="M433.2 446.5 L438.5 439.9 L439.4 442.0 L441.0 444.6 L442.0 447.3 Z" stroke-width="0.9" stroke-linejoin="round"/>
</g>
<text x="727.9" y="332.2" font-size="21.5" fill="#1f1f1f" textLength="93.5" lengthAdjust="spacingAndGlyphs">Earnings</text>
<text x="829.0" y="332.2" font-size="21.5" fill="#1f1f1f" textLength="67.6" lengthAdjust="spacingAndGlyphs">report</text>
<path d="M160.70 451.3 L166.00 455.2 L166.00 461.3 Q166.00 462.8 164.50 462.8 L156.90 462.8 Q155.40 462.8 155.40 461.3 L155.40 455.2 Z" fill="#fff" stroke="#22ab94" stroke-width="1.2" stroke-linejoin="round"/><path d="M162.40 455.4 H159.20 V460.8 H162.40 M159.20 458.1 H162.00" fill="none" stroke="#22ab94" stroke-width="0.95" opacity="0.85"/>
<path d="M418.00 451.3 L423.30 455.2 L423.30 461.3 Q423.30 462.8 421.80 462.8 L414.20 462.8 Q412.70 462.8 412.70 461.3 L412.70 455.2 Z" fill="#fff" stroke="#22ab94" stroke-width="1.2" stroke-linejoin="round"/><path d="M419.70 455.4 H416.50 V460.8 H419.70 M416.50 458.1 H419.30" fill="none" stroke="#22ab94" stroke-width="0.95" opacity="0.85"/>
<path d="M679.45 451.3 L684.75 455.2 L684.75 461.3 Q684.75 462.8 683.25 462.8 L675.65 462.8 Q674.15 462.8 674.15 461.3 L674.15 455.2 Z" fill="#fff" stroke="#22ab94" stroke-width="1.2" stroke-linejoin="round"/><path d="M681.15 455.4 H677.95 V460.8 H681.15 M677.95 458.1 H680.75" fill="none" stroke="#22ab94" stroke-width="0.95" opacity="0.85"/>
<path d="M936.60 463.6 L941.90 459.70000000000005 L941.90 454.2 Q941.90 452.7 940.40 452.7 L932.80 452.7 Q931.30 452.7 931.30 454.2 L931.30 459.70000000000005 Z" fill="#fff" stroke="#f23645" stroke-width="1.2" stroke-linejoin="round"/><path d="M938.30 455.0 H935.10 V460.4 H938.30 M935.10 457.7 H937.90" fill="none" stroke="#f23645" stroke-width="0.95" opacity="0.85"/>
<circle cx="227.10" cy="457.5" r="5.5" fill="#fff" stroke="#3d5afe" stroke-width="1.3"/><path d="M225.50 454.8 V460.2 H226.70 A2.5 2.7 0 0 0 226.70 454.8 Z" fill="none" stroke="#3d5afe" stroke-width="0.95" stroke-linejoin="round" opacity="0.85"/>
<circle cx="484.40" cy="457.5" r="5.5" fill="#fff" stroke="#3d5afe" stroke-width="1.3"/><path d="M482.80 454.8 V460.2 H484.00 A2.5 2.7 0 0 0 484.00 454.8 Z" fill="none" stroke="#3d5afe" stroke-width="0.95" stroke-linejoin="round" opacity="0.85"/>
<circle cx="745.85" cy="457.5" r="5.5" fill="#fff" stroke="#3d5afe" stroke-width="1.3"/><path d="M744.25 454.8 V460.2 H745.45 A2.5 2.7 0 0 0 745.45 454.8 Z" fill="none" stroke="#3d5afe" stroke-width="0.95" stroke-linejoin="round" opacity="0.85"/>
<circle cx="1003.20" cy="457.5" r="5.5" fill="#fff" stroke="#3d5afe" stroke-width="1.3"/><path d="M1001.60 454.8 V460.2 H1002.80 A2.5 2.7 0 0 0 1002.80 454.8 Z" fill="none" stroke="#3d5afe" stroke-width="0.95" stroke-linejoin="round" opacity="0.85"/>
<g fill="#0e0e10" stroke="#fff" stroke-width="1.8" paint-order="stroke" stroke-linejoin="round"><path d="M8.1 448.1 H14.8 V456.4 H11.6 V450.9 H8.1 Z"/><circle cx="18.1" cy="449.6" r="1.45"/><path d="M21.4 448.1 H25.3 L21.8 456.4 H17.9 Z"/></g>
<circle cx="11.7" cy="8.3" r="5" fill="#f0f3fa"/>
<rect x="9.1" y="5.8" width="2.4" height="2.4" fill="#ee3a2c"/>
<rect x="11.9" y="5.8" width="2.4" height="2.4" fill="#4a5a58"/>
<rect x="9.1" y="8.6" width="2.4" height="2.4" fill="#1f6ff0"/>
<rect x="11.9" y="8.6" width="2.4" height="2.4" fill="#e8423a"/>
<text x="19.6" y="11.6" font-size="8.2" fill="#3a3d47" textLength="37.9" lengthAdjust="spacingAndGlyphs">Microsoft</text>
<text x="61.1" y="11.6" font-size="8.2" fill="#3a3d47" textLength="19.4" lengthAdjust="spacingAndGlyphs">Corp.</text>
<text x="91.9" y="11.6" font-size="8.2" fill="#3a3d47" textLength="9.5" lengthAdjust="spacingAndGlyphs">1D</text>
<text x="108.6" y="11.6" font-size="8.2" fill="#3a3d47" textLength="33.2" lengthAdjust="spacingAndGlyphs">NASDAQ</text>
<circle cx="86.9" cy="8.6" r="0.75" fill="#3a3d47"/><circle cx="105" cy="8.6" r="0.75" fill="#3a3d47"/>
<circle cx="155.9" cy="8.2" r="5.3" fill="#2962ff"/>
<path d="M155.6 6.1 L153.0 8.2 L155.6 10.3 Z M158.7 6.1 L156.1 8.2 L158.7 10.3 Z" fill="#fff"/>
<text x="170.7" y="11.2" font-size="7.6" fill="#50535e" textLength="27.7" lengthAdjust="spacingAndGlyphs">O<tspan fill="#2aa897">268.48</tspan></text>
<text x="202.6" y="11.2" font-size="7.6" fill="#50535e" textLength="27.7" lengthAdjust="spacingAndGlyphs">H<tspan fill="#2aa897">273.34</tspan></text>
<text x="234.2" y="11.2" font-size="7.6" fill="#50535e" textLength="26.8" lengthAdjust="spacingAndGlyphs">L<tspan fill="#2aa897">267.56</tspan></text>
<text x="264.9" y="11.2" font-size="7.6" fill="#50535e" textLength="27.3" lengthAdjust="spacingAndGlyphs">C<tspan fill="#2aa897">273.24</tspan></text>
<text x="296.1" y="11.2" font-size="7.6" fill="#2aa897" textLength="18.2" lengthAdjust="spacingAndGlyphs">+7.34</text>
<text x="319.2" y="11.2" font-size="7.6" fill="#2aa897" textLength="26.4" lengthAdjust="spacingAndGlyphs">(+2.76%)</text>
<text x="6.6" y="25" font-size="7.3" fill="#50535e">Vol</text>
<text x="21.4" y="25" font-size="7.75" fill="#2aa897">26.911M</text>
<rect x="6.9" y="31" width="16" height="11.4" rx="2" fill="#fff" stroke="#e0e3eb" stroke-width="1"/>
<path d="M12.4 37.8 L14.9 35.6 L17.4 37.8" fill="none" stroke="#4a4d57" stroke-width="1.1" stroke-linecap="round" stroke-linejoin="round"/>
</svg></body></html>
